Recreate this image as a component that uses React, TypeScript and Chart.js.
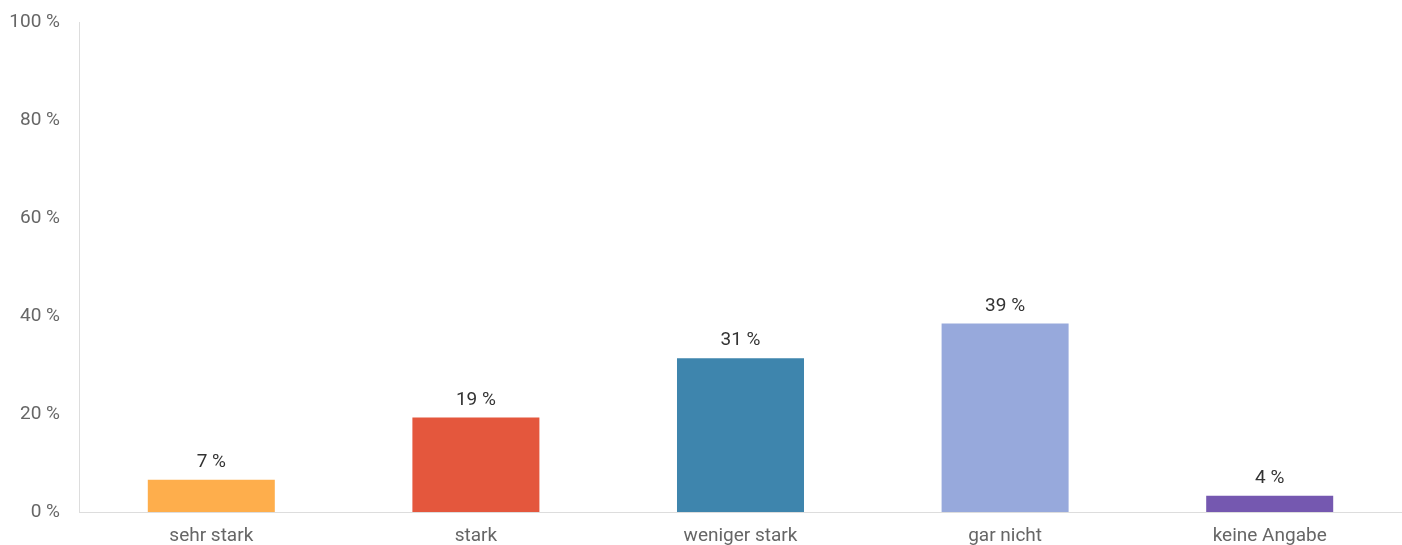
import React, { useEffect, useRef } from "react";
import { Chart, registerables } from "chart.js";

Chart.register(...registerables);

const categories = ["sehr stark", "stark", "weniger stark", "gar nicht", "keine Angabe"];
const values = [6.6, 19.3, 31.4, 38.5, 3.3];
const valueLabels = ["7 %", "19 %", "31 %", "39 %", "4 %"];
const barColors = ["#FEAE4C", "#E4573D", "#3E85AD", "#97A9DC", "#7558B0"];
const yTicks = [0, 20, 40, 60, 80, 100];

const FONT = "Roboto, 'Noto Sans', sans-serif";

const labelPlugin = {
  id: "barLabels",
  afterDatasetsDraw(chart: any) {
    const ctx = chart.ctx;
    const meta = chart.getDatasetMeta(0);
    ctx.save();
    ctx.font = `19px ${FONT}`;
    ctx.fillStyle = "#333333";
    ctx.textAlign = "center";
    ctx.textBaseline = "alphabetic";
    meta.data.forEach((bar: any, i: number) => {
      ctx.fillText(valueLabels[i], bar.x, bar.y - 13);
    });
    ctx.restore();
  },
};

export default function App() {
  const ref = useRef<HTMLCanvasElement | null>(null);
  useEffect(() => {
    document.body.style.margin = "0";
    const chart = new Chart(ref.current!, {
      type: "bar",
      data: {
        labels: categories,
        datasets: [
          {
            data: values,
            backgroundColor: barColors,
            categoryPercentage: 1,
            barPercentage: 0.48,
          },
        ],
      },
      options: {
        animation: false,
        responsive: false,
        layout: { padding: { top: 6, left: 0, right: 0, bottom: 0 } },
        plugins: { legend: { display: false }, tooltip: { enabled: false } },
        scales: {
          x: {
            grid: { display: false },
            border: { color: "#dddddd" },
            ticks: { color: "#666666", font: { family: FONT, size: 19 }, padding: 5 },
            afterFit: (axis: any) => {
              axis.height = 33;
            },
          },
          y: {
            min: 0,
            max: 100,
            afterBuildTicks: (axis: any) => {
              axis.ticks = yTicks.map((v) => ({ value: v }));
            },
            afterFit: (axis: any) => {
              axis.width = 79;
            },
            grid: { display: false },
            border: { color: "#dddddd" },
            ticks: {
              color: "#666666",
              font: { family: FONT, size: 19 },
              padding: 11,
              callback: (v: any) => `${v} %`,
            },
          },
        },
      },
      plugins: [labelPlugin],
    });
    return () => chart.destroy();
  }, []);
  return (
    <div style={{ width: 1402, height: 545 }}>
      <canvas ref={ref} width={1402} height={545} style={{ display: "block" }} />
    </div>
  );
}
